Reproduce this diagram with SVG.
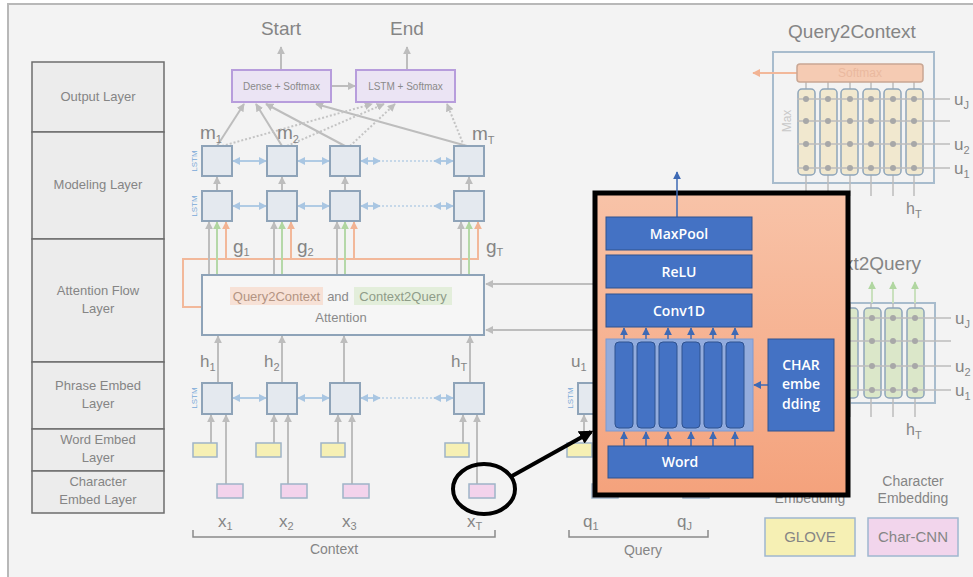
<svg xmlns="http://www.w3.org/2000/svg" width="973" height="577" viewBox="0 0 973 577">
<defs>
<style>
text{font-family:"Liberation Sans",Arial,sans-serif;fill:#858585}
.lay{fill:#ececec;stroke:#6d6d6d;stroke-width:1.5}
.lt{font-size:13px;text-anchor:middle;fill:#858585}
.lstm{fill:#e4e9ef;stroke:#8ea3b8;stroke-width:2}
.ll{font-size:8px;fill:#7aa9d8;text-anchor:middle}
.g{stroke:#bdbdbd;stroke-width:2;fill:none}
.gd{stroke:#c4c4c4;stroke-width:2;fill:none;stroke-dasharray:2 2}
.bl{stroke:#b0cbe4;stroke-width:2;fill:none}
.bld{stroke:#b8d0e6;stroke-width:1.5;fill:none;stroke-dasharray:2 2}
.gr{stroke:#b5d8a8;stroke-width:2;fill:none}
.or{stroke:#f2b89a;stroke-width:2;fill:none}
.yel{fill:#f6f0b4;stroke:#9fb4c8;stroke-width:1.5}
.pink{fill:#f3d3ec;stroke:#9fb4c8;stroke-width:1.5}
.sub{font-size:11px}
.lab{font-size:19px}
.blue{fill:#4472c4;stroke:#2f528f;stroke-width:1}
.bt{font-family:"Open Sans","Noto Sans",sans-serif;font-size:14px;font-weight:600;fill:#ffffff;text-anchor:middle}
.col{fill:#f1e8cf;stroke:#8ea5ba;stroke-width:1.5}
.colg{fill:#dbe7c9;stroke:#8ea5ba;stroke-width:1.5}
.hl{stroke:#bdbdbd;stroke-width:1.5}
.dot{fill:#a8a8a8}
.tq{fill:#b39483}
.tc{fill:#8f9c88}
.tsm{fill:#eab99f}
.tmax{fill:#c8c8c8}
.tbox{fill:#8a8a8a}
</style>
<marker id="ag" viewBox="0 0 10 10" refX="9" refY="5" markerWidth="8" markerHeight="8" markerUnits="userSpaceOnUse" orient="auto-start-reverse"><path d="M0,0L10,5L0,10z" fill="#bdbdbd"/></marker>
<marker id="ab" viewBox="0 0 10 10" refX="9" refY="5" markerWidth="8" markerHeight="8" markerUnits="userSpaceOnUse" orient="auto-start-reverse"><path d="M0,0L10,5L0,10z" fill="#a9c6e2"/></marker>
<marker id="agr" viewBox="0 0 10 10" refX="9" refY="5" markerWidth="8" markerHeight="8" markerUnits="userSpaceOnUse" orient="auto-start-reverse"><path d="M0,0L10,5L0,10z" fill="#b0d6a0"/></marker>
<marker id="aor" viewBox="0 0 10 10" refX="9" refY="5" markerWidth="8" markerHeight="8" markerUnits="userSpaceOnUse" orient="auto-start-reverse"><path d="M0,0L10,5L0,10z" fill="#f2b393"/></marker>
<marker id="ak" viewBox="0 0 10 10" refX="8" refY="5" markerWidth="14" markerHeight="14" markerUnits="userSpaceOnUse" orient="auto"><path d="M0,0L10,5L0,10z" fill="#000"/></marker>
<marker id="adb" viewBox="0 0 10 10" refX="9" refY="5" markerWidth="8" markerHeight="8" markerUnits="userSpaceOnUse" orient="auto"><path d="M0,0L10,5L0,10z" fill="#3e6ab5"/></marker>
<linearGradient id="og" x1="0" y1="0" x2="0" y2="1"><stop offset="0" stop-color="#f8c3a8"/><stop offset="1" stop-color="#f4a27c"/></linearGradient>
</defs>

<rect x="0" y="0" width="973" height="577" fill="#ffffff"/>
<rect x="8" y="4" width="965" height="573" fill="#f3f3f3"/>
<path d="M8,577V4H973" stroke="#b8b8b8" stroke-width="2" fill="none"/>

<g id="layers">
<rect class="lay" x="32" y="62" width="132" height="70"/>
<rect class="lay" x="32" y="132" width="132" height="107"/>
<rect class="lay" x="32" y="239" width="132" height="123"/>
<rect class="lay" x="32" y="362" width="132" height="67"/>
<rect class="lay" x="32" y="429" width="132" height="42"/>
<rect class="lay" x="32" y="471" width="132" height="42"/>
<text class="lt" x="98" y="101">Output  Layer</text>
<text class="lt" x="98" y="189">Modeling Layer</text>
<text class="lt" x="98" y="295">Attention  Flow</text>
<text class="lt" x="98" y="313">Layer</text>
<text class="lt" x="98" y="390">Phrase Embed</text>
<text class="lt" x="98" y="408">Layer</text>
<text class="lt" x="98" y="444">Word Embed</text>
<text class="lt" x="98" y="462">Layer</text>
<text class="lt" x="98" y="486">Character</text>
<text class="lt" x="98" y="504">Embed Layer</text>
</g>

<g id="connectors">
<line class="g" x1="281" y1="70" x2="281" y2="47" marker-end="url(#ag)"/>
<line class="g" x1="407" y1="70" x2="407" y2="47" marker-end="url(#ag)"/>
<line class="g" x1="331" y1="86" x2="355" y2="86" marker-end="url(#ag)"/>
<line class="g" x1="217" y1="146" x2="244" y2="104" marker-end="url(#ag)"/>
<line class="g" x1="282" y1="146" x2="256" y2="104" marker-end="url(#ag)"/>
<line class="g" x1="345" y1="146" x2="266" y2="104" marker-end="url(#ag)"/>
<line class="g" x1="467" y1="146" x2="316" y2="104" marker-end="url(#ag)"/>
<line class="gd" x1="222" y1="146" x2="372" y2="104" marker-end="url(#ag)"/>
<line class="gd" x1="287" y1="146" x2="384" y2="104" marker-end="url(#ag)"/>
<line class="gd" x1="350" y1="146" x2="395" y2="104" marker-end="url(#ag)"/>
<line class="gd" x1="464" y1="146" x2="447" y2="104" marker-end="url(#ag)"/>
<line class="g" x1="217" y1="191" x2="217" y2="177" marker-end="url(#ag)"/>
<line class="g" x1="282" y1="191" x2="282" y2="177" marker-end="url(#ag)"/>
<line class="g" x1="345" y1="191" x2="345" y2="177" marker-end="url(#ag)"/>
<line class="g" x1="469" y1="191" x2="469" y2="177" marker-end="url(#ag)"/>
<g>
<line class="bl" x1="233" y1="161" x2="266" y2="161" marker-start="url(#ab)" marker-end="url(#ab)"/>
<line class="bl" x1="298" y1="161" x2="329" y2="161" marker-start="url(#ab)" marker-end="url(#ab)"/>
<line class="bl" x1="361" y1="161" x2="380" y2="161" marker-start="url(#ab)" marker-end="url(#ab)"/>
<line class="bld" x1="382" y1="161" x2="432" y2="161"/>
<line class="bl" x1="434" y1="161" x2="453" y2="161" marker-start="url(#ab)" marker-end="url(#ab)"/>
<line class="bl" x1="233" y1="206" x2="266" y2="206" marker-start="url(#ab)" marker-end="url(#ab)"/>
<line class="bl" x1="298" y1="206" x2="329" y2="206" marker-start="url(#ab)" marker-end="url(#ab)"/>
<line class="bl" x1="361" y1="206" x2="380" y2="206" marker-start="url(#ab)" marker-end="url(#ab)"/>
<line class="bld" x1="382" y1="206" x2="432" y2="206"/>
<line class="bl" x1="434" y1="206" x2="453" y2="206" marker-start="url(#ab)" marker-end="url(#ab)"/>
<line class="bl" x1="233" y1="398" x2="266" y2="398" marker-start="url(#ab)" marker-end="url(#ab)"/>
<line class="bl" x1="298" y1="398" x2="329" y2="398" marker-start="url(#ab)" marker-end="url(#ab)"/>
<line class="bl" x1="361" y1="398" x2="380" y2="398" marker-start="url(#ab)" marker-end="url(#ab)"/>
<line class="bld" x1="382" y1="398" x2="432" y2="398"/>
<line class="bl" x1="434" y1="398" x2="453" y2="398" marker-start="url(#ab)" marker-end="url(#ab)"/>
</g>
<path class="or" d="M202,307H183V259H479"/>
<line class="g" x1="209" y1="275" x2="209" y2="222" marker-end="url(#ag)"/>
<line class="gr" x1="217" y1="275" x2="217" y2="222" marker-end="url(#agr)"/>
<line class="or" x1="226" y1="259" x2="226" y2="222" marker-end="url(#aor)"/>
<line class="g" x1="274" y1="275" x2="274" y2="222" marker-end="url(#ag)"/>
<line class="gr" x1="282" y1="275" x2="282" y2="222" marker-end="url(#agr)"/>
<line class="or" x1="291" y1="259" x2="291" y2="222" marker-end="url(#aor)"/>
<line class="g" x1="337" y1="275" x2="337" y2="222" marker-end="url(#ag)"/>
<line class="gr" x1="345" y1="275" x2="345" y2="222" marker-end="url(#agr)"/>
<line class="or" x1="354" y1="259" x2="354" y2="222" marker-end="url(#aor)"/>
<line class="g" x1="461" y1="275" x2="461" y2="222" marker-end="url(#ag)"/>
<line class="gr" x1="469" y1="275" x2="469" y2="222" marker-end="url(#agr)"/>
<line class="or" x1="478" y1="259" x2="478" y2="222" marker-end="url(#aor)"/>
<line class="g" x1="600" y1="284" x2="486" y2="284" marker-end="url(#ag)"/>
<line class="g" x1="600" y1="330" x2="486" y2="330" marker-end="url(#ag)"/>
<line class="g" x1="218" y1="383" x2="218" y2="336" marker-end="url(#ag)"/>
<line class="g" x1="282" y1="383" x2="282" y2="336" marker-end="url(#ag)"/>
<line class="g" x1="344" y1="383" x2="344" y2="336" marker-end="url(#ag)"/>
<line class="g" x1="470" y1="383" x2="470" y2="336" marker-end="url(#ag)"/>
<line class="g" x1="211" y1="443" x2="211" y2="415" marker-end="url(#ag)"/>
<line class="g" x1="226" y1="484" x2="226" y2="415" marker-end="url(#ag)"/>
<line class="g" x1="274" y1="443" x2="274" y2="415" marker-end="url(#ag)"/>
<line class="g" x1="288" y1="484" x2="288" y2="415" marker-end="url(#ag)"/>
<line class="g" x1="338" y1="443" x2="338" y2="415" marker-end="url(#ag)"/>
<line class="g" x1="352" y1="484" x2="352" y2="415" marker-end="url(#ag)"/>
<line class="g" x1="463" y1="443" x2="463" y2="415" marker-end="url(#ag)"/>
<line class="g" x1="477" y1="484" x2="477" y2="415" marker-end="url(#ag)"/>
<line class="g" x1="584" y1="443" x2="584" y2="415" marker-end="url(#ag)"/>
<path d="M193,530V537H495V530" stroke="#8a8a8a" stroke-width="1.5" fill="none"/>
<path d="M569,530V537H708V530" stroke="#8a8a8a" stroke-width="1.5" fill="none"/>
</g>

<g id="output">
<text x="281" y="35" font-size="19" text-anchor="middle">Start</text>
<text x="407" y="35" font-size="19" text-anchor="middle">End</text>
<rect x="232" y="70" width="99" height="32" fill="#ebe4f4" stroke="#b79ddc" stroke-width="2"/>
<text class="tbox" x="281.5" y="90" font-size="10" text-anchor="middle">Dense  +  Softmax</text>
<rect x="356" y="70" width="99" height="32" fill="#ebe4f4" stroke="#b79ddc" stroke-width="2"/>
<text class="tbox" x="405.5" y="90" font-size="10" text-anchor="middle">LSTM  +  Softmax</text>
<text class="lab" x="200" y="139">m<tspan class="sub" dy="4">1</tspan></text>
<text class="lab" x="277" y="139">m<tspan class="sub" dy="4">2</tspan></text>
<text class="lab" x="472" y="140">m<tspan class="sub" dy="4">T</tspan></text>
</g>

<g id="modeling">
<text class="ll" transform="translate(197,161) rotate(-90)">LSTM</text>
<text class="ll" transform="translate(197,206) rotate(-90)">LSTM</text>
<rect class="lstm" x="202" y="146" width="30" height="30"/>
<rect class="lstm" x="267" y="146" width="30" height="30"/>
<rect class="lstm" x="330" y="146" width="30" height="30"/>
<rect class="lstm" x="454" y="146" width="30" height="30"/>
<rect class="lstm" x="202" y="191" width="30" height="30"/>
<rect class="lstm" x="267" y="191" width="30" height="30"/>
<rect class="lstm" x="330" y="191" width="30" height="30"/>
<rect class="lstm" x="454" y="191" width="30" height="30"/>
<text class="lab" x="233" y="253">g<tspan class="sub" dy="3">1</tspan></text>
<text class="lab" x="297" y="253">g<tspan class="sub" dy="3">2</tspan></text>
<text class="lab" x="486" y="253">g<tspan class="sub" dy="3">T</tspan></text>
</g>

<g id="attention">
<rect x="202" y="275" width="282" height="60" fill="#f6f6f6" stroke="#8ea3b8" stroke-width="2"/>
<rect x="230" y="287" width="93" height="18" fill="#f7e1d6"/>
<rect x="354" y="287" width="98" height="18" fill="#e3eedb"/>
<text class="tq" x="276.5" y="301" font-size="13" text-anchor="middle">Query2Context</text>
<text class="tbox" x="338" y="301" font-size="13" text-anchor="middle">and</text>
<text class="tc" x="403" y="301" font-size="13" text-anchor="middle">Context2Query</text>
<text class="tbox" x="341" y="322" font-size="13" text-anchor="middle">Attention</text>
</g>

<g id="phrase">
<text x="200" y="367" font-size="17">h<tspan class="sub" dy="4">1</tspan></text>
<text x="264" y="367" font-size="17">h<tspan class="sub" dy="4">2</tspan></text>
<text x="451" y="367" font-size="17">h<tspan class="sub" dy="4">T</tspan></text>
<text class="ll" transform="translate(197,398) rotate(-90)">LSTM</text>
<rect class="lstm" x="202" y="383" width="30" height="31"/>
<rect class="lstm" x="267" y="383" width="30" height="31"/>
<rect class="lstm" x="330" y="383" width="30" height="31"/>
<rect class="lstm" x="454" y="383" width="30" height="31"/>
</g>

<g id="embed">
<rect class="yel" x="193" y="443" width="24" height="14"/>
<rect class="yel" x="256" y="443" width="25" height="14"/>
<rect class="yel" x="321" y="443" width="24" height="14"/>
<rect class="yel" x="445" y="443" width="24" height="14"/>
<rect class="pink" x="217" y="484" width="26" height="14"/>
<rect class="pink" x="281" y="484" width="26" height="14"/>
<rect class="pink" x="343" y="484" width="26" height="14"/>
<rect class="pink" x="469" y="484" width="26" height="14"/>
<text x="218" y="527" font-size="17">x<tspan class="sub" dy="3">1</tspan></text>
<text x="279" y="527" font-size="17">x<tspan class="sub" dy="3">2</tspan></text>
<text x="342" y="527" font-size="17">x<tspan class="sub" dy="3">3</tspan></text>
<text x="467" y="527" font-size="17">x<tspan class="sub" dy="3">T</tspan></text>
<text x="334" y="554" font-size="14" text-anchor="middle">Context</text>
</g>

<g id="query">
<text x="571" y="367" font-size="17">u<tspan class="sub" dy="4">1</tspan></text>
<text class="ll" transform="translate(573,398) rotate(-90)">LSTM</text>
<rect class="lstm" x="578" y="383" width="30" height="31"/>
<rect class="yel" x="567" y="443" width="25" height="14"/>
<rect class="pink" x="592" y="484" width="26" height="14"/>
<rect class="yel" x="660" y="443" width="25" height="14"/>
<rect class="pink" x="683" y="484" width="26" height="14"/>
<text x="583" y="527" font-size="17">q<tspan class="sub" dy="3">1</tspan></text>
<text x="677" y="527" font-size="17">q<tspan class="sub" dy="3">J</tspan></text>
<text x="643" y="555" font-size="14" text-anchor="middle">Query</text>
</g>

<g id="query2context">
<text x="852" y="38" font-size="19" text-anchor="middle">Query2Context</text>
<rect x="773" y="52" width="161" height="131" fill="none" stroke="#a8bccd" stroke-width="2"/>
<line x1="797" y1="73" x2="753" y2="73" stroke="#f2b89a" stroke-width="2" marker-end="url(#aor)"/>
<g class="hl">
<line x1="806" y1="82" x2="806" y2="196"/><line x1="828" y1="82" x2="828" y2="196"/><line x1="850" y1="82" x2="850" y2="196"/>
<line x1="871" y1="82" x2="871" y2="196"/><line x1="893" y1="82" x2="893" y2="196"/><line x1="914" y1="82" x2="914" y2="196"/>
</g>
<rect class="col" x="798" y="89" width="17" height="86" rx="4"/>
<rect class="col" x="820" y="89" width="17" height="86" rx="4"/>
<rect class="col" x="841" y="89" width="17" height="86" rx="4"/>
<rect class="col" x="863" y="89" width="17" height="86" rx="4"/>
<rect class="col" x="884" y="89" width="17" height="86" rx="4"/>
<rect class="col" x="906" y="89" width="17" height="86" rx="4"/>
<rect x="797" y="64" width="126" height="18" rx="3" fill="#f5cbb3" stroke="#c9a794" stroke-width="1.5"/>
<text class="tsm" x="860" y="77" font-size="12" text-anchor="middle">Softmax</text>
<g class="hl">
<line x1="797" y1="99" x2="950" y2="99"/><line x1="797" y1="121" x2="950" y2="121"/>
<line x1="797" y1="144" x2="950" y2="144"/><line x1="797" y1="168" x2="950" y2="168"/>
</g>
<g class="dot">
<circle cx="806" cy="99" r="3"/><circle cx="828" cy="99" r="3"/><circle cx="850" cy="99" r="3"/><circle cx="871" cy="99" r="3"/><circle cx="893" cy="99" r="3"/><circle cx="914" cy="99" r="3"/>
<circle cx="806" cy="121" r="3"/><circle cx="828" cy="121" r="3"/><circle cx="850" cy="121" r="3"/><circle cx="871" cy="121" r="3"/><circle cx="893" cy="121" r="3"/><circle cx="914" cy="121" r="3"/>
<circle cx="806" cy="144" r="3"/><circle cx="828" cy="144" r="3"/><circle cx="850" cy="144" r="3"/><circle cx="871" cy="144" r="3"/><circle cx="893" cy="144" r="3"/><circle cx="914" cy="144" r="3"/>
<circle cx="806" cy="168" r="3"/><circle cx="828" cy="168" r="3"/><circle cx="850" cy="168" r="3"/><circle cx="871" cy="168" r="3"/><circle cx="893" cy="168" r="3"/><circle cx="914" cy="168" r="3"/>
</g>
<text class="tmax" font-size="12" text-anchor="middle" transform="translate(791,121) rotate(-90)">Max</text>
<text x="954" y="105" font-size="17">u<tspan class="sub" dy="4">J</tspan></text>
<text x="954" y="150" font-size="17">u<tspan class="sub" dy="4">2</tspan></text>
<text x="954" y="174" font-size="17">u<tspan class="sub" dy="4">1</tspan></text>
<text x="906" y="214" font-size="16">h<tspan class="sub" dy="4">T</tspan></text>
</g>

<g id="context2query">
<text x="921" y="270" font-size="19" text-anchor="end">Context2Query</text>
<rect x="773" y="303" width="162" height="100" fill="none" stroke="#a8bccd" stroke-width="2"/>
<g class="hl">
<line x1="806" y1="303" x2="806" y2="417"/><line x1="828" y1="303" x2="828" y2="417"/><line x1="850" y1="303" x2="850" y2="417"/>
<line x1="871" y1="303" x2="871" y2="417"/><line x1="893" y1="303" x2="893" y2="417"/><line x1="915" y1="303" x2="915" y2="417"/>
</g>
<line x1="872" y1="303" x2="872" y2="282" stroke="#c9e0bd" stroke-width="2" marker-end="url(#agr)"/>
<line x1="893" y1="303" x2="893" y2="282" stroke="#c9e0bd" stroke-width="2" marker-end="url(#agr)"/>
<line x1="915" y1="303" x2="915" y2="282" stroke="#c9e0bd" stroke-width="2" marker-end="url(#agr)"/>
<rect class="colg" x="841" y="308" width="17" height="90" rx="4"/>
<rect class="colg" x="864" y="308" width="17" height="90" rx="4"/>
<rect class="colg" x="885" y="308" width="17" height="90" rx="4"/>
<rect class="colg" x="907" y="308" width="17" height="90" rx="4"/>
<g class="hl">
<line x1="797" y1="318" x2="951" y2="318"/><line x1="797" y1="341" x2="951" y2="341"/>
<line x1="797" y1="366" x2="951" y2="366"/><line x1="797" y1="390" x2="951" y2="390"/>
</g>
<g class="dot">
<circle cx="872" cy="318" r="3"/><circle cx="893" cy="318" r="3"/><circle cx="915" cy="318" r="3"/>
<circle cx="872" cy="341" r="3"/><circle cx="893" cy="341" r="3"/><circle cx="915" cy="341" r="3"/>
<circle cx="872" cy="366" r="3"/><circle cx="893" cy="366" r="3"/><circle cx="915" cy="366" r="3"/>
<circle cx="872" cy="390" r="3"/><circle cx="893" cy="390" r="3"/><circle cx="915" cy="390" r="3"/>
</g>
<text x="955" y="324" font-size="17">u<tspan class="sub" dy="4">J</tspan></text>
<text x="955" y="372" font-size="17">u<tspan class="sub" dy="4">2</tspan></text>
<text x="955" y="396" font-size="17">u<tspan class="sub" dy="4">1</tspan></text>
<text x="906" y="435" font-size="16">h<tspan class="sub" dy="4">T</tspan></text>
</g>

<g id="legend">
<text x="810" y="486" font-size="14" text-anchor="middle">Word</text>
<text x="810" y="503" font-size="14" text-anchor="middle">Embedding</text>
<text x="913" y="486" font-size="14" text-anchor="middle">Character</text>
<text x="913" y="503" font-size="14" text-anchor="middle">Embedding</text>
<rect x="765" y="518" width="90" height="38" fill="#f6f0b4" stroke="#9fb7cf" stroke-width="1.5"/>
<text x="810" y="542" font-size="15" text-anchor="middle">GLOVE</text>
<rect x="868" y="518" width="90" height="38" fill="#f2d5ec" stroke="#9fb7cf" stroke-width="1.5"/>
<text x="913" y="542" font-size="15" text-anchor="middle">Char-CNN</text>
</g>

<g id="charcnn">
<rect x="595" y="193" width="253" height="302" fill="url(#og)" stroke="#000" stroke-width="5"/>
<line x1="677" y1="217" x2="677" y2="172" stroke="#3e6ab5" stroke-width="1.5" marker-end="url(#adb)"/>
<rect class="blue" x="606" y="217" width="146" height="33"/>
<text class="bt" x="679" y="239">MaxPool</text>
<rect class="blue" x="606" y="255" width="146" height="33"/>
<text class="bt" x="679" y="277">ReLU</text>
<rect class="blue" x="606" y="294" width="146" height="33"/>
<text class="bt" x="679" y="316">Conv1D</text>
<rect x="606" y="339" width="147" height="92" fill="#93acdd" stroke="#7c9ad2" stroke-width="1"/>
<rect class="blue" x="615" y="342" width="18" height="86" rx="4"/>
<rect class="blue" x="637" y="342" width="18" height="86" rx="4"/>
<rect class="blue" x="659" y="342" width="18" height="86" rx="4"/>
<rect class="blue" x="682" y="342" width="18" height="86" rx="4"/>
<rect class="blue" x="704" y="342" width="18" height="86" rx="4"/>
<rect class="blue" x="726" y="342" width="18" height="86" rx="4"/>
<g stroke="#3e6ab5" stroke-width="1.5">
<line x1="624" y1="339" x2="624" y2="328" marker-end="url(#adb)"/>
<line x1="646" y1="339" x2="646" y2="328" marker-end="url(#adb)"/>
<line x1="668" y1="339" x2="668" y2="328" marker-end="url(#adb)"/>
<line x1="691" y1="339" x2="691" y2="328" marker-end="url(#adb)"/>
<line x1="713" y1="339" x2="713" y2="328" marker-end="url(#adb)"/>
<line x1="735" y1="339" x2="735" y2="328" marker-end="url(#adb)"/>
<line x1="624" y1="446" x2="624" y2="432" marker-end="url(#adb)"/>
<line x1="646" y1="446" x2="646" y2="432" marker-end="url(#adb)"/>
<line x1="668" y1="446" x2="668" y2="432" marker-end="url(#adb)"/>
<line x1="691" y1="446" x2="691" y2="432" marker-end="url(#adb)"/>
<line x1="713" y1="446" x2="713" y2="432" marker-end="url(#adb)"/>
<line x1="735" y1="446" x2="735" y2="432" marker-end="url(#adb)"/>
<line x1="768" y1="385" x2="754" y2="385" marker-end="url(#adb)"/>
</g>
<rect class="blue" x="608" y="446" width="145" height="32"/>
<text class="bt" x="680" y="467">Word</text>
<rect class="blue" x="768" y="339" width="66" height="92"/>
<text class="bt" x="801" y="370">CHAR</text>
<text class="bt" x="801" y="389">embe</text>
<text class="bt" x="801" y="409">dding</text>
</g>

<g id="callout">
<ellipse cx="484" cy="489" rx="31" ry="25" fill="none" stroke="#000" stroke-width="4"/>
<line x1="512" y1="476" x2="591" y2="432" stroke="#000" stroke-width="4" marker-end="url(#ak)"/>
</g>
</svg>
